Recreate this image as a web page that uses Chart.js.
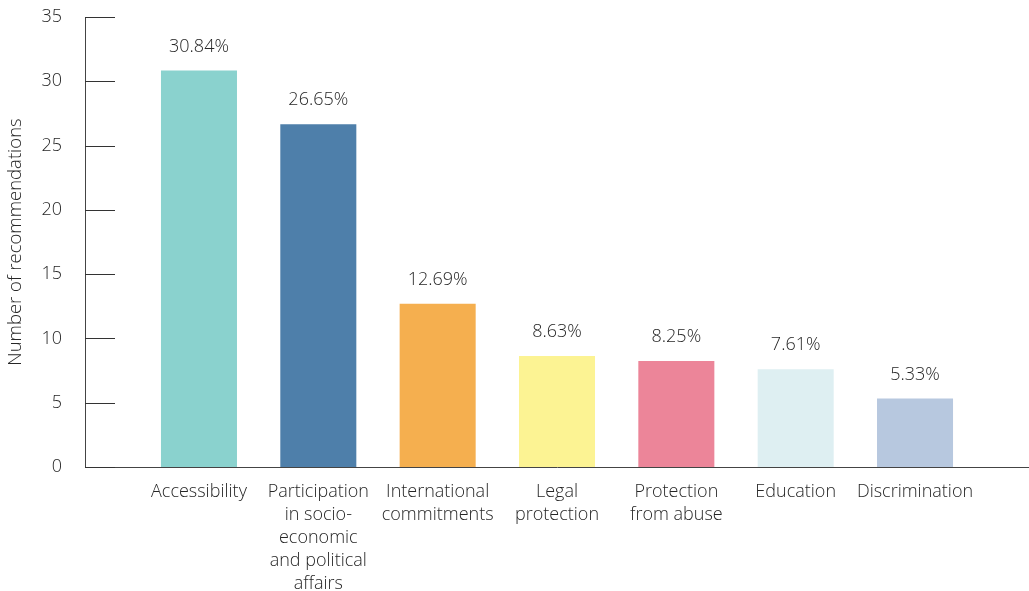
<!DOCTYPE html>
<html>
<head>
<meta charset="utf-8">
<script src="https://cdn.jsdelivr.net/npm/chart.js@4.4.1/dist/chart.umd.min.js"></script>
<style>
  html, body { margin: 0; padding: 0; background: #fff; }
  #wrap { width: 1029px; height: 591px; position: relative; }
</style>
</head>
<body>
<div id="wrap"><canvas id="myChart"></canvas></div>
<script>
// categories and values
const categories = [
  'Accessibility',
  ['Participation', 'in socio-', 'economic', 'and political', 'affairs'],
  ['International', 'commitments'],
  ['Legal', 'protection'],
  ['Protection', 'from abuse'],
  'Education',
  'Discrimination'
];
const shares = [30.84, 26.65, 12.69, 8.63, 8.25, 7.61, 5.33];
const barColors = ['#8AD2CE', '#4E7FAA', '#F5AF4F', '#FCF393', '#EC8599', '#DEEFF2', '#B7C8DF'];
const yTicks = [0, 5, 10, 15, 20, 25, 30, 35];

const textColor = '#262626';
const fontFamily = '"Open Sans", "Noto Sans", sans-serif';

// short tick marks drawn inward from the y axis
const innerTicks = {
  id: 'innerTicks',
  afterDraw(chart) {
    const ctx = chart.ctx;
    const yScale = chart.scales.y;
    const left = chart.chartArea.left;
    ctx.save();
    ctx.strokeStyle = '#333';
    ctx.lineWidth = 1;
    yScale.ticks.forEach(t => {
      const y = Math.round(yScale.getPixelForValue(t.value)) + 0.5;
      ctx.beginPath();
      ctx.moveTo(left, y);
      ctx.lineTo(left + 30, y);
      ctx.stroke();
    });
    ctx.restore();
  }
};

// percentage labels above each bar
const barLabels = {
  id: 'barLabels',
  afterDatasetsDraw(chart) {
    const ctx = chart.ctx;
    const meta = chart.getDatasetMeta(0);
    ctx.save();
    ctx.font = '300 18px ' + fontFamily;
    ctx.fillStyle = textColor;
    ctx.textAlign = 'center';
    ctx.textBaseline = 'middle';
    meta.data.forEach((bar, i) => {
      ctx.fillText(shares[i].toFixed(2) + '%', bar.x, bar.y - 24);
    });
    ctx.restore();
  }
};

function createChart() {
  const ctx = document.getElementById('myChart').getContext('2d');
  return new Chart(ctx, {
    type: 'bar',
    data: {
      datasets: [{
        data: shares.map((v, i) => ({ x: i, y: v })),
        backgroundColor: barColors,
        borderWidth: 0,
        categoryPercentage: 1,
        barPercentage: 0.637
      }]
    },
    options: {
      responsive: true,
      maintainAspectRatio: false,
      animation: false,
      layout: { padding: 0 },
      plugins: {
        legend: { display: false },
        tooltip: { enabled: false }
      },
      scales: {
        x: {
          type: 'linear',
          offset: false,
          min: -0.955,
          max: 6.955,
          afterBuildTicks: scale => {
            scale.ticks = categories.map((c, i) => ({ value: i }));
          },
          afterFit: scale => { scale.height = 124; },
          grid: { display: false },
          border: { display: true, color: '#444', width: 1 },
          ticks: {
            autoSkip: false,
            maxRotation: 0,
            padding: 5,
            color: textColor,
            font: { family: fontFamily, size: 18, weight: 300, lineHeight: 1.28 },
            callback: value => categories[value]
          }
        },
        y: {
          min: 0,
          max: 35,
          afterBuildTicks: scale => {
            scale.ticks = yTicks.map(v => ({ value: v }));
          },
          afterFit: scale => {
            scale.width = 85;
            scale.paddingTop = 17;
            scale.paddingBottom = 0;
          },
          grid: { display: false },
          border: { display: true, color: '#444', width: 1 },
          ticks: {
            padding: 15,
            color: textColor,
            font: { family: fontFamily, size: 18, weight: 300 }
          },
          title: {
            display: true,
            text: 'Number of recommendations',
            color: textColor,
            padding: { top: 5, bottom: 0 },
            font: { family: fontFamily, size: 18.5, weight: 300 }
          }
        }
      }
    },
    plugins: [innerTicks, barLabels]
  });
}

document.addEventListener('DOMContentLoaded', createChart);
</script>
</body>
</html>
